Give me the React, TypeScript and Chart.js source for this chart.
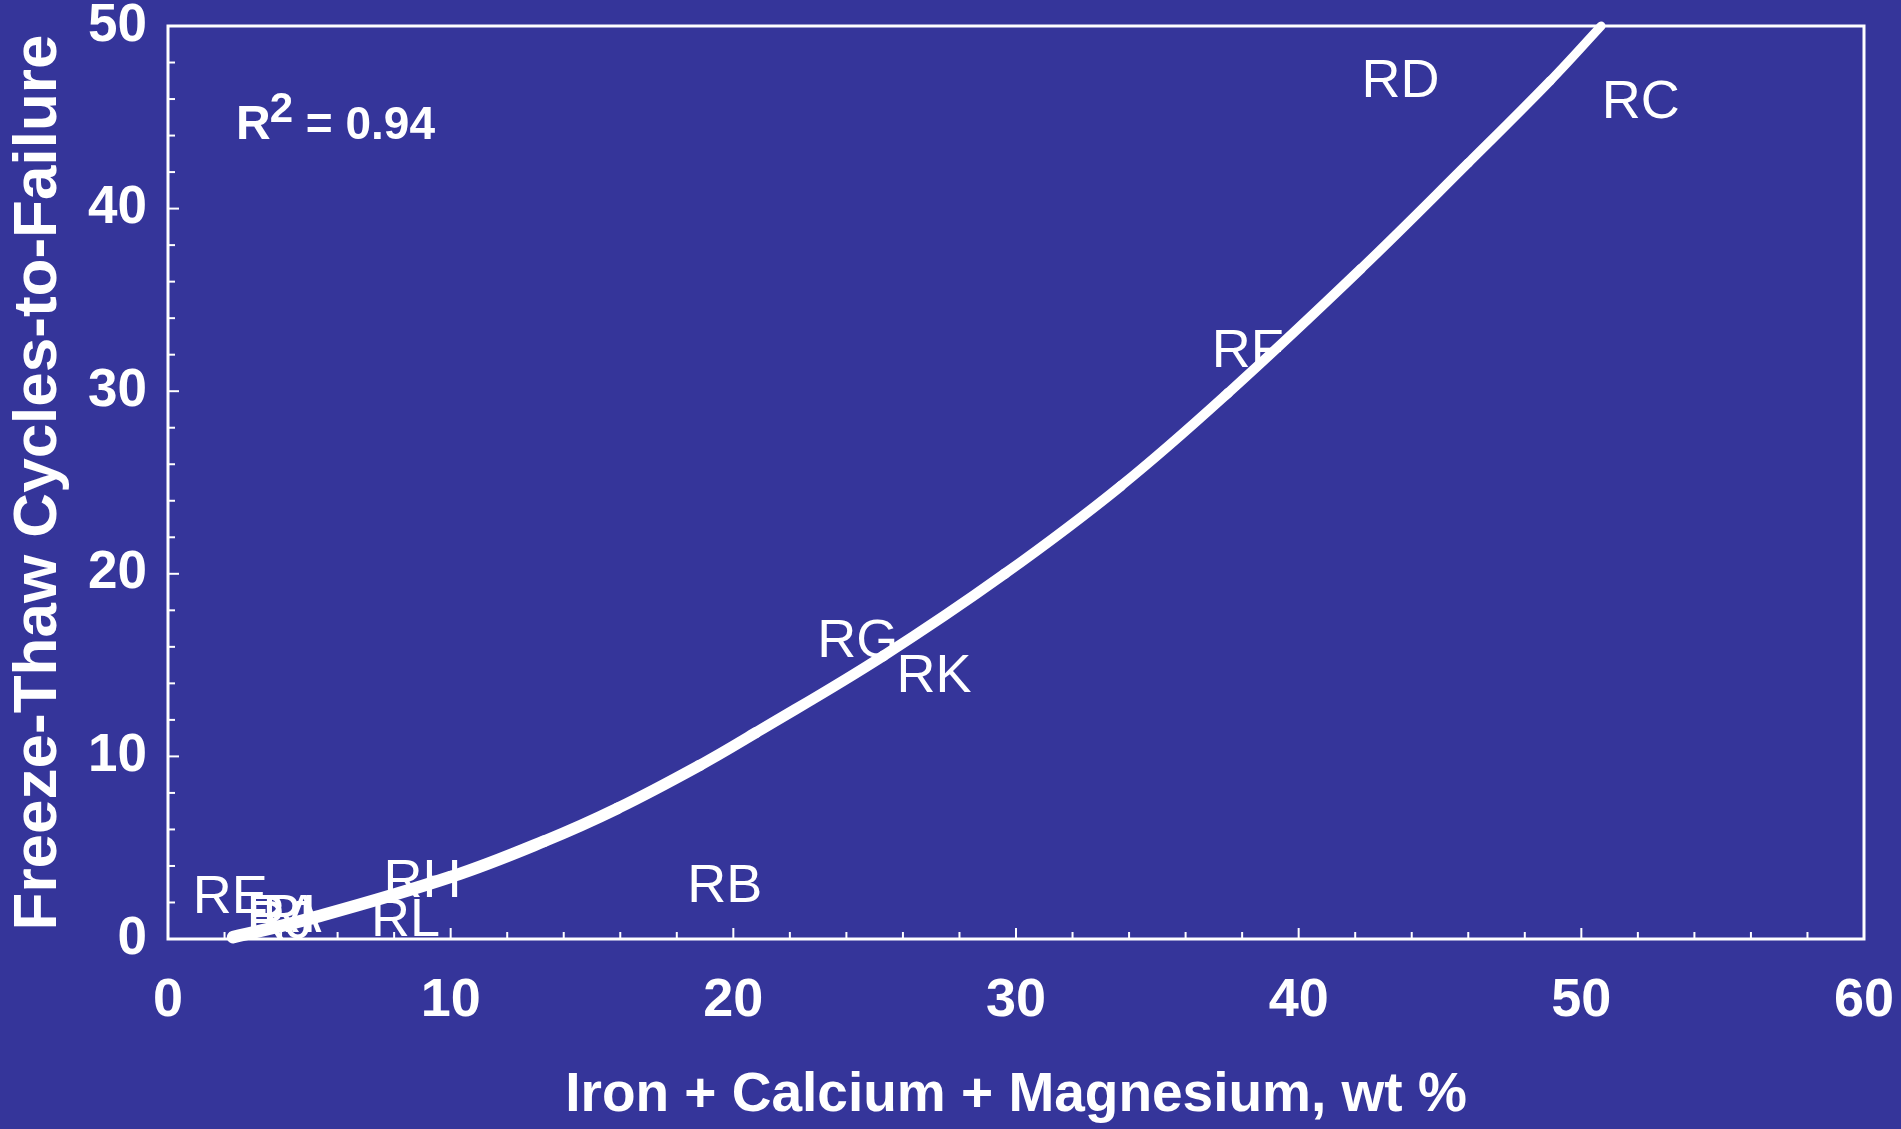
import React, { useEffect, useRef } from "react";
import { Chart, registerables } from "chart.js";

Chart.register(...registerables);

// ---------- data ----------
const SAMPLE_LABELS = ["RA", "RB", "RC", "RD", "RE", "RF", "RG", "RH", "RI", "RJ", "RK", "RL"];
const SAMPLE_X = [4.1, 19.7, 52.1, 43.6, 2.2, 38.2, 24.4, 9.0, 4.3, 3.95, 27.1, 8.4];
const SAMPLE_Y = [1.45, 3.1, 46.0, 47.15, 2.46, 32.4, 16.5, 3.35, 1.45, 1.1, 14.6, 1.2];

const FIT_X = [2.3, 5.1, 10.0, 13.3, 15.9, 18.8, 20.8, 25.3, 29.6, 33.7, 37.5, 42.2, 46.0, 48.9, 50.7];
const FIT_Y = [0.1, 1.15, 3.4, 5.35, 7.15, 9.5, 11.3, 15.5, 20.0, 24.8, 29.9, 36.7, 42.5, 47.0, 50.0];

const X_MAJOR_TICKS = [0, 10, 20, 30, 40, 50, 60];
const Y_MAJOR_TICKS = [0, 10, 20, 30, 40, 50];
const X_TITLE = "Iron + Calcium + Magnesium, wt %";
const Y_TITLE = "Freeze-Thaw Cycles-to-Failure";
const R2_VALUE = "0.94";

// ---------- styling ----------
const BG = "#35359a";
const FG = "#ffffff";
const FONT = '"Liberation Sans", Arial, Helvetica, sans-serif';
const W = 1901;
const H = 1129;

function minorTicks(max: number, step: number) {
  const out: { value: number }[] = [];
  for (let v = 0; v <= max + 1e-9; v += step) out.push({ value: Math.round(v * 1000) / 1000 });
  return out;
}

const decorPlugin = {
  id: "decor",
  beforeDraw(chart: any) {
    const { ctx } = chart;
    ctx.save();
    ctx.fillStyle = BG;
    ctx.fillRect(0, 0, chart.width, chart.height);
    ctx.restore();
  },
  beforeDatasetsDraw(chart: any) {
    const { ctx, chartArea } = chart;
    const xs = chart.scales.x;
    const ys = chart.scales.y;
    ctx.save();
    ctx.strokeStyle = FG;
    // ticks (inward)
    ctx.lineWidth = 2;
    xs.ticks.forEach((t: any) => {
      const px = xs.getPixelForValue(t.value);
      const len = X_MAJOR_TICKS.includes(t.value) ? 11 : 7;
      ctx.beginPath();
      ctx.moveTo(px, chartArea.bottom);
      ctx.lineTo(px, chartArea.bottom - len);
      ctx.stroke();
    });
    ys.ticks.forEach((t: any) => {
      const py = ys.getPixelForValue(t.value);
      const len = Y_MAJOR_TICKS.includes(t.value) ? 11 : 7;
      ctx.beginPath();
      ctx.moveTo(chartArea.left, py);
      ctx.lineTo(chartArea.left + len, py);
      ctx.stroke();
    });
    // frame
    ctx.lineWidth = 3;
    ctx.strokeRect(chartArea.left, chartArea.top, chartArea.right - chartArea.left, chartArea.bottom - chartArea.top);

    // sample labels (drawn at the points of dataset 1)
    const meta = chart.getDatasetMeta(1);
    const size = 54;
    ctx.font = `${size}px ${FONT}`;
    ctx.fillStyle = FG;
    ctx.textAlign = "center";
    ctx.textBaseline = "alphabetic";
    meta.data.forEach((pt: any, i: number) => {
      ctx.fillText(SAMPLE_LABELS[i], pt.x, pt.y + (0.716 * size) / 2);
    });

    // R^2 annotation
    ctx.textAlign = "left";
    let x = 236;
    const base = 139;
    ctx.font = `bold 48px ${FONT}`;
    ctx.fillText("R", x, base);
    x += ctx.measureText("R").width - 1;
    ctx.font = `bold 42px ${FONT}`;
    ctx.fillText("2", x, base - 17);
    x += ctx.measureText("2").width;
    ctx.font = `bold 46px ${FONT}`;
    ctx.fillText(" = " + R2_VALUE, x, base);
    ctx.restore();
  },
};

export default function App() {
  const ref = useRef<HTMLCanvasElement | null>(null);

  useEffect(() => {
    document.body.style.margin = "0";
    document.body.style.background = BG;
    document.body.style.overflow = "hidden";
    if (!ref.current) return;

    const fitData = FIT_X.map((x, i) => ({ x, y: FIT_Y[i] }));
    const sampleData = SAMPLE_X.map((x, i) => ({ x, y: SAMPLE_Y[i] }));
    const n = FIT_X.length;

    const chart = new Chart(ref.current, {
      type: "scatter",
      data: {
        datasets: [
          {
            label: "fit",
            data: fitData,
            showLine: true,
            borderColor: FG,
            borderWidth: 11,
            borderCapStyle: "round",
            borderJoinStyle: "round",
            tension: 0.4,
            pointRadius: 0,
            clip: false,
            segment: {
              borderWidth: (c: any) => 12.5 - 3.5 * (c.p0DataIndex / (n - 2)),
            },
          } as any,
          {
            label: "samples",
            data: sampleData,
            pointRadius: 0,
            showLine: false,
          } as any,
        ],
      },
      options: {
        animation: false,
        responsive: false,
        devicePixelRatio: 1,
        layout: { padding: { top: 26, right: 37, left: 0, bottom: 0 } },
        plugins: { legend: { display: false }, tooltip: { enabled: false } },
        events: [],
        scales: {
          x: {
            type: "linear",
            min: 0,
            max: 60,
            grid: { display: false, drawTicks: false },
            border: { display: false },
            afterBuildTicks: (s: any) => {
              s.ticks = minorTicks(60, 2);
            },
            afterFit: (s: any) => {
              s.height = H - 939;
              s.paddingLeft = 0;
              s.paddingRight = 0;
            },
            ticks: {
              color: FG,
              autoSkip: false,
              maxRotation: 0,
              padding: 30,
              font: { family: FONT, weight: "bold", size: 54 },
              callback: (v: any) => (X_MAJOR_TICKS.includes(v) ? String(v) : ""),
            },
            title: {
              display: true,
              text: X_TITLE,
              color: FG,
              font: { family: FONT, weight: "bold", size: 55 },
              padding: { top: 0, bottom: 0 },
            },
          },
          y: {
            type: "linear",
            min: 0,
            max: 50,
            grid: { display: false, drawTicks: false },
            border: { display: false },
            afterBuildTicks: (s: any) => {
              s.ticks = minorTicks(50, 2);
            },
            afterFit: (s: any) => {
              s.width = 168;
              s.paddingTop = 0;
              s.paddingBottom = 0;
            },
            ticks: {
              color: FG,
              autoSkip: false,
              padding: 21,
              font: { family: FONT, weight: "bold", size: 53 },
              callback: (v: any) => (Y_MAJOR_TICKS.includes(v) ? String(v) : ""),
            },
            title: {
              display: true,
              text: Y_TITLE,
              color: FG,
              font: { family: FONT, weight: "bold", size: 62 },
              padding: { top: 2, bottom: 0 },
            },
          },
        },
      },
      plugins: [decorPlugin],
    } as any);

    return () => chart.destroy();
  }, []);

  return (
    <div style={{ width: W, height: H }}>
      <canvas ref={ref} width={W} height={H} style={{ display: "block", width: W, height: H }} />
    </div>
  );
}
